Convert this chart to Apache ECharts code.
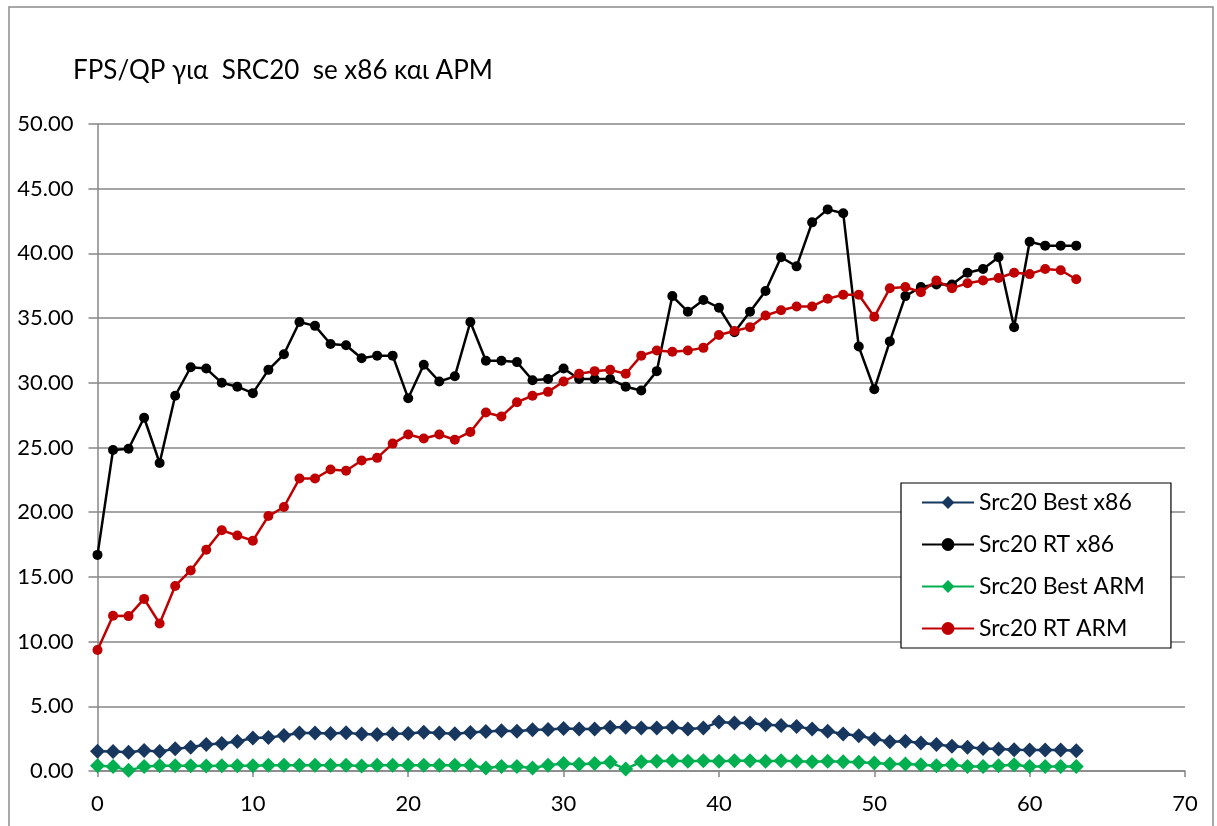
<!DOCTYPE html>
<html>
<head>
<meta charset="utf-8">
<script src="https://cdn.jsdelivr.net/npm/echarts@6/dist/echarts.min.js"></script>
<style>html,body{margin:0;padding:0;background:#fff;}#c{width:1217px;height:826px;}</style>
</head>
<body>
<div id="c"></div>
<script>
const titleText = 'FPS/QP για  SRC20  se x86 και APM';
const seriesNames = ['Src20 Best x86', 'Src20 RT x86', 'Src20 Best ARM', 'Src20 RT ARM'];
const xValues = [0,1,2,3,4,5,6,7,8,9,10,11,12,13,14,15,16,17,18,19,20,21,22,23,24,25,26,27,28,29,30,31,32,33,34,35,36,37,38,39,40,41,42,43,44,45,46,47,48,49,50,51,52,53,54,55,56,57,58,59,60,61,62,63];
const bestX86 = [1.53,1.50,1.45,1.58,1.50,1.71,1.84,2.05,2.12,2.28,2.55,2.58,2.75,2.93,2.93,2.90,2.95,2.85,2.82,2.88,2.90,3.00,2.93,2.88,2.98,3.05,3.12,3.08,3.18,3.20,3.28,3.24,3.24,3.38,3.38,3.32,3.32,3.38,3.25,3.32,3.79,3.71,3.71,3.58,3.51,3.43,3.25,3.07,2.86,2.73,2.47,2.27,2.29,2.16,2.04,1.91,1.83,1.73,1.70,1.65,1.62,1.62,1.62,1.57];
const rtX86 = [16.7,24.8,24.9,27.3,23.8,29.0,31.2,31.1,30.0,29.7,29.2,31.0,32.2,34.7,34.4,33.0,32.9,31.9,32.1,32.1,28.8,31.4,30.1,30.5,34.7,31.7,31.7,31.6,30.2,30.3,31.1,30.3,30.3,30.3,29.7,29.4,30.9,36.7,35.5,36.4,35.8,33.9,35.5,37.1,39.7,39.0,42.4,43.4,43.1,32.8,29.5,33.2,36.7,37.4,37.6,37.6,38.5,38.8,39.7,34.3,40.9,40.6,40.6,40.6];
const bestARM = [0.41,0.34,0.05,0.34,0.41,0.41,0.41,0.38,0.41,0.41,0.41,0.45,0.45,0.45,0.45,0.45,0.45,0.38,0.45,0.45,0.45,0.45,0.45,0.45,0.45,0.23,0.34,0.34,0.23,0.45,0.58,0.52,0.58,0.67,0.15,0.72,0.75,0.80,0.75,0.80,0.75,0.80,0.80,0.75,0.80,0.75,0.72,0.75,0.72,0.67,0.62,0.54,0.54,0.49,0.41,0.49,0.34,0.34,0.41,0.49,0.34,0.34,0.34,0.34];
const rtARM = [9.35,12.0,11.97,13.3,11.4,14.3,15.5,17.1,18.6,18.2,17.8,19.7,20.4,22.6,22.6,23.3,23.2,24.0,24.2,25.3,26.0,25.7,26.0,25.6,26.2,27.7,27.4,28.5,29.0,29.3,30.1,30.7,30.9,31.0,30.7,32.1,32.5,32.4,32.5,32.7,33.7,34.0,34.3,35.2,35.6,35.9,35.9,36.5,36.8,36.8,35.1,37.3,37.4,37.0,37.9,37.3,37.7,37.9,38.1,38.5,38.4,38.8,38.7,38.0];

const FONT = 'Lato, "Open Sans", "Noto Sans", sans-serif';
function pairs(arr){ return arr.map((v,i)=>[xValues[i], v]); }

const chart = echarts.init(document.getElementById('c'), null, {renderer:'canvas'});
chart.setOption({
  animation: false,
  backgroundColor: '#ffffff',
  textStyle: {fontFamily: FONT},
  graphic: [{
    type: 'rect', shape: {x: 9, y: 7, width: 1204, height: 830},
    style: {fill: 'none', stroke: '#8c8c8c', lineWidth: 1.5}, z: -1
  }],
  title: {
    text: titleText, left: 68, top: 53,
    textStyle: {fontFamily: FONT, fontSize: 26, fontWeight: 'normal', color: '#000'}
  },
  legend: {
    orient: 'vertical', left: 901, top: 483,
    padding: [8, 26, 8, 20],
    backgroundColor: '#fff', borderColor: '#000', borderWidth: 1.2,
    itemWidth: 52, itemHeight: 16, itemGap: 19,
    textStyle: {fontFamily: FONT, fontSize: 23, color: '#000', lineHeight: 23},
    data: seriesNames
  },
  grid: {left: 97.5, right: 32, top: 124, bottom: 55, containLabel: false},
  xAxis: {
    type: 'value', min: 0, max: 70, interval: 10,
    axisLine: {show: true, onZero: false, lineStyle: {color: '#868686', width: 1.5}},
    axisTick: {show: true, length: 6, lineStyle: {color: '#868686', width: 1.5}},
    axisLabel: {fontFamily: FONT, fontSize: 22, color: '#000', margin: 22},
    splitLine: {show: false}
  },
  yAxis: {
    type: 'value', min: 0, max: 50, interval: 5,
    axisLine: {show: true, lineStyle: {color: '#868686', width: 1.5}},
    axisTick: {show: true, length: 9, lineStyle: {color: '#868686', width: 1.5}},
    axisLabel: {fontFamily: FONT, fontSize: 22, color: '#000', margin: 24, formatter: v => v.toFixed(2)},
    splitLine: {show: true, lineStyle: {color: '#868686', width: 1.5}}
  },
  series: [
    {name: seriesNames[0], type: 'line', data: pairs(bestX86), symbol: 'diamond', symbolSize: 15,
     itemStyle: {color: '#17375E'}, lineStyle: {color: '#17375E', width: 2.5}, z: 2},
    {name: seriesNames[1], type: 'line', data: pairs(rtX86), symbol: 'circle', symbolSize: 10,
     itemStyle: {color: '#000000'}, lineStyle: {color: '#000000', width: 2.5}, z: 3},
    {name: seriesNames[2], type: 'line', data: pairs(bestARM), symbol: 'diamond', symbolSize: 15,
     itemStyle: {color: '#00B050'}, lineStyle: {color: '#00B050', width: 2.5}, z: 4},
    {name: seriesNames[3], type: 'line', data: pairs(rtARM), symbol: 'circle', symbolSize: 10,
     itemStyle: {color: '#C00000'}, lineStyle: {color: '#C00000', width: 2.5}, z: 5}
  ]
});
</script>
</body>
</html>
